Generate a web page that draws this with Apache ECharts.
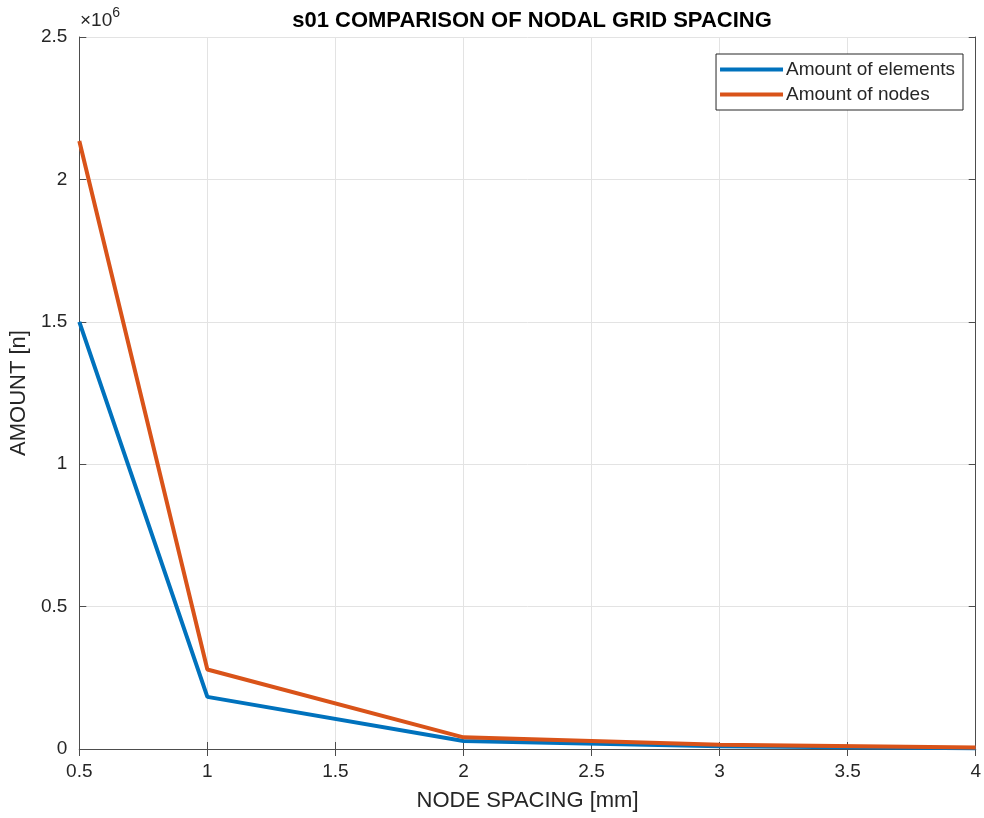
<!DOCTYPE html>
<html>
<head>
<meta charset="utf-8">
<script src="https://cdn.jsdelivr.net/npm/echarts@6/dist/echarts.min.js"></script>
<style>
  html, body { margin: 0; padding: 0; background: #fff; }
  #chart { width: 984px; height: 818px; }
</style>
</head>
<body>
<div id="chart"></div>
<script>
// node spacing [mm]
const spacing = [0.5, 1, 2, 3, 4]
const elements = [1500000, 183000, 28000, 10000, 3000]
const nodes = [2135000, 279000, 41000, 15000, 5000]

const chart = echarts.init(document.getElementById('chart'))
const font = 'Liberation Sans, Arial, sans-serif'
const axisCol = '#4d4d4d'
const textCol = '#262626'

function pairs(ys) {
  return spacing.map((x, i) => [x, ys[i]])
}

chart.setOption({
  animation: false,
  title: {
    text: 's01 COMPARISON OF NODAL GRID SPACING',
    left: 527,
    textAlign: 'center',
    top: 5,
    textStyle: { fontFamily: font, fontSize: 22, fontWeight: 'bold', color: '#000' }
  },
  legend: {
    right: 21,
    top: 54,
    orient: 'vertical',
    itemWidth: 63,
    itemHeight: 4,
    itemGap: 6,
    padding: [6, 8, 6, 4],
    borderColor: '#262626',
    borderWidth: 1,
    backgroundColor: '#fff',
    icon: 'rect',
    textStyle: { fontFamily: font, fontSize: 19, color: textCol, padding: [0, 0, 0, -2] },
    data: ['Amount of elements', 'Amount of nodes']
  },
  graphic: [{
    type: 'text',
    left: 80,
    top: 6,
    style: {
      text: '{a|×10}{b|6}',
      rich: {
        a: { fontFamily: font, fontSize: 19, fill: textCol, verticalAlign: 'bottom' },
        b: { fontFamily: font, fontSize: 14, fill: textCol, verticalAlign: 'top', padding: [0, 0, 10, 0] }
      }
    }
  }],
  grid: { left: 79, right: 4, top: 37, bottom: 69 },
  xAxis: [{
    type: 'value',
    min: 0.5,
    max: 4,
    interval: 0.5,
    name: 'NODE SPACING [mm]',
    nameLocation: 'middle',
    nameGap: 41,
    nameTextStyle: { fontFamily: font, fontSize: 22, color: textCol },
    axisLine: { lineStyle: { color: axisCol, width: 1 } },
    axisTick: { inside: true, length: 7, lineStyle: { color: axisCol } },
    axisLabel: { fontFamily: font, fontSize: 19, color: textCol, margin: 13 },
    splitLine: { show: true, lineStyle: { color: '#e3e3e3', width: 1 } }
  }, {
    type: 'value',
    position: 'top',
    min: 0.5,
    max: 4,
    interval: 0.5,
    axisLine: { show: true, lineStyle: { color: axisCol, width: 1 } },
    axisTick: { inside: true, length: 7, lineStyle: { color: axisCol } },
    axisLabel: { show: false },
    splitLine: { show: false }
  }],
  yAxis: [{
    type: 'value',
    min: 0,
    max: 2500000,
    interval: 500000,
    name: 'AMOUNT [n]',
    nameLocation: 'middle',
    nameGap: 47,
    nameTextStyle: { fontFamily: font, fontSize: 22, color: textCol },
    axisLine: { show: true, lineStyle: { color: axisCol, width: 1 } },
    axisTick: { show: true, inside: true, length: 7, lineStyle: { color: axisCol } },
    axisLabel: {
      fontFamily: font, fontSize: 19, color: textCol, margin: 12,
      formatter: v => String(v / 1e6)
    },
    splitLine: { show: true, lineStyle: { color: '#e3e3e3', width: 1 } }
  }, {
    type: 'value',
    position: 'right',
    min: 0,
    max: 2500000,
    interval: 500000,
    axisLine: { show: true, lineStyle: { color: axisCol, width: 1 } },
    axisTick: { show: true, inside: true, length: 7, lineStyle: { color: axisCol } },
    axisLabel: { show: false },
    splitLine: { show: false }
  }],
  series: [{
    name: 'Amount of elements',
    type: 'line',
    data: pairs(elements),
    symbol: 'none',
    color: '#0072BD',
    lineStyle: { width: 4, color: '#0072BD' }
  }, {
    name: 'Amount of nodes',
    type: 'line',
    data: pairs(nodes),
    symbol: 'none',
    color: '#D95319',
    lineStyle: { width: 4, color: '#D95319' }
  }]
})
</script>
</body>
</html>
